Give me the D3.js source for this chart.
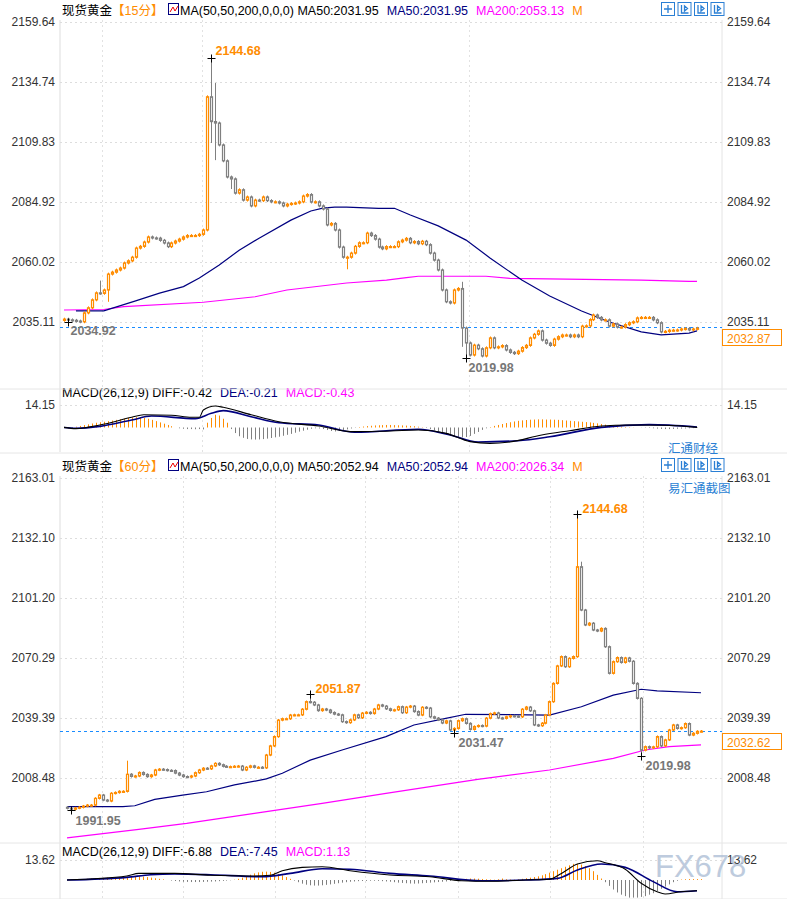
<!DOCTYPE html>
<html>
<head>
<meta charset="utf-8">
<script src="https://cdn.jsdelivr.net/npm/d3@7"></script>
<style>
  body { margin: 0; background: #fff; }
  text { font-family: "Liberation Sans", Arial, "Noto Sans CJK SC", sans-serif; }
</style>
</head>
<body>
<svg id="chart" width="787" height="899"></svg>
<script>
// ---------- 15 minute panel ----------
const topCloses = [
  2036.3,2036,2035.8,2035.5,2035.2,2038.9,2041,2044.3,2047.2,2047,
  2048.4,2055,2055.8,2056.7,2057.5,2059.6,2060.5,2062,2065.8,2066.5,
  2068.3,2070.4,2070,2069.9,2069,2067.9,2066.4,2067.9,2068.7,2069.5,
  2070.4,2071,2071,2071,2071.5,2073.3,2128.6,2118.3,2117.7,2108.6,
  2102,2095.3,2094.5,2088.6,2090,2085.7,2087,2083.3,2085.7,2085.5,
  2087,2085.5,2085,2085,2084.5,2083.3,2084,2084.3,2084.5,2085,
  2087.4,2088,2084.9,2085,2083.3,2082,2075.4,2076,2073.3,2066.2,
  2062,2062,2063.7,2066.5,2068,2068,2072,2071,2069.5,2066.2,
  2065.5,2066.4,2066.4,2066.4,2068.4,2069.1,2069.8,2068,2068.5,2067.6,
  2068.6,2067.2,2063.7,2060.8,2056.7,2048.4,2043.5,2043,2048.4,2049,
  2032.6,2026.4,2021.4,2025.5,2024,2021,2024.4,2028.5,2024.4,2024.8,
  2025.3,2023.5,2022.5,2022,2023,2024.5,2025.4,2028.5,2030,2031.4,
  2027.6,2026.3,2025.4,2028,2029,2029.7,2029.7,2029,2029.7,2029,
  2033.4,2033.5,2036.1,2038,2037,2036,2036,2033.4,2034.3,2033,
  2033,2034,2034.8,2035.2,2036.8,2037,2037,2037,2036,2034.8,
  2031,2031.2,2031.7,2031.7,2031.8,2032.2,2032.4,2031.8,2032.2,2032.5
];
const topFirstOpen = 2035.8;
const topHighs = {9: 2052.3, 37: 2144.68, 38: 2134.3, 100: 2051.8};
const topLows = {1: 2034.92, 11: 2043.5, 37: 2109.4, 38: 2102.3, 42: 2090.3, 71: 2057, 100: 2024.8, 101: 2019.98};
const topMa50 = [[3,2039.7],[10,2039.7],[18,2043.9],[24,2047.1],[30,2049.8],[34,2053.4],[39,2058.8],[44,2064.9],
  [49,2069.9],[57,2077.4],[62,2081.2],[65,2082.4],[68,2082.8],[71,2082.8],[79,2082.3],[83,2082.3],[87,2079.5],
  [94,2075],[101,2069.1],[107,2061.7],[115,2052.5],[122,2045.9],[130,2039.7],[137,2035.1],[145,2031],
  [150,2029.8],[157,2030.5],[159,2031.4]];
const topMa200 = [[0,2040.1],[10,2040.3],[15,2041.5],[35,2043.3],[48,2045.6],[56,2048.4],[71,2051.3],[81,2052.5],
  [86,2053.5],[89,2054.1],[106,2054.1],[112,2053.2],[145,2052.5],[157,2052],[159,2052]];
const topDiff = [[0,0.1],[3,-0.7],[9,1.6],[17,6.4],[20,8],[27,7.7],[32,6.4],[34,6.4],[35,11],[38,13.5],[40,12.7],
  [47,8],[54,3.6],[64,0.9],[72,-2.6],[79,-2.4],[89,-1.6],[96,-3.7],[102,-8.9],[107,-10],[112,-9.1],[120,-4.7],
  [127,-2],[135,0.9],[142,1.6],[151,1.4],[159,0.1]];
const topDea = [[0,0],[3,-0.5],[9,0.7],[17,4.7],[22,7.2],[33,5.5],[37,8.9],[40,10.6],[47,6.8],[54,3],[64,1.6],
  [73,-3],[89,-1.1],[97,-4.7],[104,-9.1],[114,-8.3],[122,-5.8],[135,0.1],[147,1.8],[159,0.3]];
const topHist = [
  -0.3,-0.5,-0.3,0.5,1,1.5,2,2.5,3,3.3, 3.6,4,4.4,4.8,5.2,5.6,6,6.3,6.5,6.3,
  6,5.5,4.8,4,3.2,2.4,1.6,0.8,0,-0.5, -0.8,-1,-1,-1.1,-1,-1.2,3,6,8,7.5,
  5.5,3,-1,-3.5,-5.5,-6.5,-7.2,-7.5,-7.6,-7.5, -7.3,-7,-6.6,-6.2,-5.8,-5.2,-4.6,-4,-3.3,-2.6,
  -2,-1.4,-0.8,-0.5,-0.6,-1,-1.6,-2.2,-2.5,-2.2, -1.8,-1.2,-0.6,-0.2,0.3,0.6,0.9,1.1,1.3,1.4,
  1.5,1.6,1.6,1.5,1.4,1.3,1.2,1,0.8,0.5, 0.2,-0.3,-1,-1.8,-2.6,-3.4,-4.2,-5,-5.6,-6,
  -6.2,-6,-5.3,-4,-2.8,-1.5,-0.5,0.3,1,1.6, 2.2,2.8,3.3,3.8,4.2,4.5,4.7,4.9,5,5.1,
  5.1,5,5,4.9,4.8,4.6,4.4,4.2,4,3.8, 3.6,3.4,3.2,2.9,2.6,2.2,1.8,1.4,1,0.7,
  0.5,0.3,0.2,0.1,0,-0.1,-0.2,-0.3,-0.5,-0.7, -0.9,-1,-1,-0.9,-0.8,-0.7,-0.6,-0.5,-0.4,-0.3
];
const topTicks = [2159.64, 2134.74, 2109.83, 2084.92, 2060.02, 2035.11];

// ---------- 60 minute panel ----------
const botCloses = [
  1992.9,1992.4,1993,1993.4,1994,1994.5,1994.5,1998,1999.7,1997.1,
  1996.6,2000.6,2001,2001.6,2001.6,2010.4,2009.3,2009.5,2011.3,2010.3,
  2009.2,2010,2012.6,2013,2012.8,2012.4,2012.3,2011,2010,2009.2,
  2009,2009.5,2011.2,2012.6,2013.5,2013.2,2014.7,2016,2015.3,2014.5,
  2014.3,2014.3,2014.5,2014.6,2012.6,2014,2014.7,2014,2014,2013.7,
  2020.3,2025,2029.8,2038.3,2039,2039,2040.9,2041,2041,2043.9,
  2047.8,2047.5,2046.1,2043.2,2044,2043.5,2042.2,2041.4,2041,2037.5,
  2037,2038.4,2041,2039.5,2041.9,2042.3,2041.7,2044,2046.1,2045.5,
  2044.1,2043.3,2043.6,2045.2,2042.1,2045,2045.5,2042.7,2040.9,2044.9,
  2044.5,2040,2039.3,2038.4,2036.8,2037.9,2033.2,2034,2038,2039,
  2036.6,2033.5,2035,2035.5,2035.2,2039.3,2041.6,2042,2039.4,2039.2,
  2040,2040.5,2040.3,2040,2043.9,2045,2043.1,2035.8,2035.4,2036.7,
  2040.9,2047.8,2057.2,2066.2,2071,2065.8,2070.1,2071,2117.3,2095,
  2087.3,2088.2,2084.7,2084.2,2085.5,2076.1,2062.4,2068.4,2070.5,2068,
  2070.3,2068.6,2057.2,2049.5,2022.8,2024.6,2024,2024.5,2029.8,2025,
  2028.1,2033.2,2035.8,2034,2034.4,2036.5,2030.6,2031.5,2032.5,2032.6
];
const botFirstOpen = 1993.4;
const botHighs = {15: 2017.4, 61: 2051.87, 128: 2144.68, 129: 2119.9};
const botLows = {1: 1991.95, 97: 2031.47, 144: 2019.98};
const botMa50 = [[0,1993.7],[14,1993.7],[17,1994.2],[22,1997.5],[29,1999.7],[35,2001.4],[42,2004.9],[50,2008],
  [54,2010.9],[61,2017.7],[69,2022.9],[80,2029.8],[87,2035.8],[95,2039.2],[100,2041.3],[121,2040.9],
  [129,2045.2],[137,2051.2],[144,2054.2],[148,2053.4],[159,2052.4]];
const botMa200 = [[0,1977.6],[18,1982],[30,1985.1],[47,1990.3],[64,1995.4],[80,2000.6],[103,2007.8],
  [121,2012.6],[137,2018.6],[145,2022.9],[151,2024.6],[159,2025.5]];
const botDiff = [[0,0],[15,2.7],[18,4.5],[27,4.5],[36,3.2],[46,2.7],[51,3.2],[54,6.3],[59,8.6],[64,9],[71,6.3],
  [81,3.4],[91,2.2],[99,-0.5],[106,-0.9],[115,0],[121,0.5],[124,4.5],[128,10.9],[133,13.1],[135,11.8],
  [140,7.3],[144,-2.2],[148,-8],[150,-9.5],[154,-8],[158,-7.3]];
const botDea = [[0,0],[15,1.8],[21,3.6],[27,4.1],[36,3.6],[49,2.2],[56,4.5],[64,7.7],[71,7.3],[81,4.5],[91,2.7],
  [104,-0.5],[115,0],[123,1.1],[128,6.8],[134,10.9],[140,8.6],[147,-1.1],[153,-8],[158,-7.3]];
const botHist = [
  0,0.2,0.3,0.5,0.6,0.8,1,1.2,1.4,1.5, 1.6,1.7,1.8,1.9,2,2.2,2.4,2.6,2.5,2.3,
  2,1.6,1.2,0.8,0.4,0,-0.4,-0.7,-1,-1.2, -1.3,-1.4,-1.4,-1.4,-1.3,-1.2,-1.1,-1,-0.8,-0.6,
  -0.4,-0.2,0.2,0.8,1.6,2.6,3.6,4.5,5.2,5.6, 5.7,5.5,5,4.2,3.2,2,0.8,-0.4,-1.5,-2.5,
  -3.2,-3.6,-3.8,-3.8,-3.6,-3.3,-3,-2.6,-2.2,-1.8, -1.5,-1.2,-1,-0.8,-0.7,-0.6,-0.5,-0.5,-0.6,-0.8,
  -1,-1.2,-1.5,-1.8,-2,-2.2,-2.4,-2.5,-2.4,-2.2, -2,-1.8,-1.6,-1.4,-1.2,-1,-0.6,-0.2,0.3,0.6,
  0.8,1,1,0.9,0.7,0.5,0.3,0.2,0.5,1, 0.5,0.3,0.2,0.4,0.8,1.2,1.6,2,2.5,3.2,
  4,5,6,7,8,9,10,11,11,10.5, 9.5,8,6,3.5,1,-1.5,-4,-6.5,-8.5,-10,
  -11,-12,-12,-12,-11.5,-11,-10,-9,-7.5,-6, -4.5,-3,-1.5,-0.5,0.3,0.5,0.6,0.6,0.6,0.6
];
const botTicks = [2163.01, 2132.10, 2101.20, 2070.29, 2039.39, 2008.48];

const UP = '#ff8c00', DOWN = '#808080', NAVY = '#000080', MAG = '#ff00ff';
const svg = d3.select('#chart');

function candlesOf(closes, firstOpen, highs, lows) {
  return closes.map((c, i) => {
    const o = i === 0 ? firstOpen : closes[i - 1];
    return {i, o, c,
      h: highs[i] !== undefined ? highs[i] : Math.max(o, c) + 0.6,
      l: lows[i] !== undefined ? lows[i] : Math.min(o, c) - 0.6};
  });
}

function drawPanel(cfg) {
  const g = svg.append('g');
  const x = d3.scaleLinear().domain([0, cfg.closes.length - 1]).range(cfg.xRange);
  const y = d3.scaleLinear().domain([cfg.ticks[cfg.ticks.length - 1], cfg.ticks[0]]).range(cfg.yRange);
  const my = d3.scaleLinear().domain([0, cfg.macdTick]).range(cfg.macdRange);

  // frame lines
  g.append('line').attr('x1', 60).attr('x2', 60).attr('y1', cfg.top).attr('y2', cfg.bottom).attr('stroke', '#ddd');
  g.append('line').attr('x1', 722).attr('x2', 722).attr('y1', cfg.top).attr('y2', cfg.bottom).attr('stroke', '#e4e4e4');
  g.append('line').attr('x1', 0).attr('x2', 787).attr('y1', cfg.sep).attr('y2', cfg.sep).attr('stroke', '#e6e6e6');

  // grid
  g.selectAll('.hg').data(cfg.ticks).join('line')
    .attr('x1', 60).attr('x2', 722).attr('y1', d => Math.round(y(d)) + 0.5).attr('y2', d => Math.round(y(d)) + 0.5)
    .attr('stroke', '#ddd').attr('stroke-dasharray', '2,3');
  g.append('line').attr('x1', 60).attr('x2', 722)
    .attr('y1', Math.round(my(cfg.macdTick)) + 0.5).attr('y2', Math.round(my(cfg.macdTick)) + 0.5)
    .attr('stroke', '#ddd').attr('stroke-dasharray', '2,3');
  g.selectAll('.vg').data(cfg.vgrid).join('line')
    .attr('x1', d => d + 0.5).attr('x2', d => d + 0.5).attr('y1', cfg.top).attr('y2', cfg.bottom)
    .attr('stroke', '#e2e2e2').attr('stroke-dasharray', '2,3');

  // axis labels
  const lab = (v, yy) => {
    g.append('text').attr('x', 55).attr('y', yy + 4).attr('text-anchor', 'end').attr('font-size', 12).attr('fill', '#333').text(v);
    g.append('text').attr('x', 727).attr('y', yy + 4).attr('font-size', 12).attr('fill', '#333').text(v);
  };
  cfg.ticks.forEach(t => lab(t.toFixed(2), y(t)));
  lab(cfg.macdTick.toFixed(2), my(cfg.macdTick));

  // last price dashed line and box
  const ly = Math.round(y(cfg.last)) + 0.5;
  g.append('line').attr('x1', 60).attr('x2', 722).attr('y1', ly).attr('y2', ly)
    .attr('stroke', '#1a8cff').attr('stroke-dasharray', '3,3');
  g.append('rect').attr('x', 722.5).attr('y', ly + 2).attr('width', 59).attr('height', 16)
    .attr('fill', '#fff').attr('stroke', UP);
  g.append('text').attr('x', 727).attr('y', ly + 15).attr('font-size', 12).attr('fill', UP).text(cfg.last.toFixed(2));

  // moving averages
  const line = d3.line().x(d => x(d[0])).y(d => y(d[1]));
  g.append('path').datum(cfg.ma200).attr('d', line).attr('fill', 'none').attr('stroke', MAG).attr('stroke-width', 1.2);
  g.append('path').datum(cfg.ma50).attr('d', line).attr('fill', 'none').attr('stroke', NAVY).attr('stroke-width', 1.2);

  // candles
  const data = candlesOf(cfg.closes, cfg.firstOpen, cfg.highs, cfg.lows);
  const cg = g.selectAll('.c').data(data).join('g');
  cg.append('line')
    .attr('x1', d => Math.round(x(d.i)) + 0.5).attr('x2', d => Math.round(x(d.i)) + 0.5)
    .attr('y1', d => y(d.h)).attr('y2', d => y(d.l))
    .attr('stroke', d => d.c >= d.o ? UP : DOWN).attr('stroke-width', 1);
  cg.append('rect')
    .attr('x', d => Math.round(x(d.i)) - 0.5).attr('width', 2)
    .attr('y', d => y(Math.max(d.o, d.c)))
    .attr('height', d => Math.max(1, y(Math.min(d.o, d.c)) - y(Math.max(d.o, d.c))))
    .attr('fill', '#fff').attr('stroke', d => d.c >= d.o ? UP : DOWN).attr('stroke-width', 1.2);

  // extreme markers
  cfg.marks.forEach(m => {
    const px = Math.round(x(m.i)) + 0.5, py = Math.round(y(m.v)) + 0.5;
    g.append('path').attr('d', `M${px - 4},${py}H${px + 4}M${px},${py - 4}V${py + 4}`).attr('stroke', '#000');
    g.append('text').attr('x', px + m.dx).attr('y', py + m.dy).attr('font-size', 12.5).attr('font-weight', 'bold')
      .attr('fill', m.color).text(m.v.toFixed(2));
  });

  // MACD
  g.selectAll('.h').data(cfg.hist).join('line')
    .attr('x1', (d, i) => Math.round(x(i)) + 0.5).attr('x2', (d, i) => Math.round(x(i)) + 0.5)
    .attr('y1', my(0)).attr('y2', d => my(d))
    .attr('stroke', d => d >= 0 ? UP : DOWN).attr('stroke-width', 1);
  const mline = d3.line().x(d => x(d[0])).y(d => my(d[1])).curve(d3.curveMonotoneX);
  g.append('path').datum(cfg.dea).attr('d', mline).attr('fill', 'none').attr('stroke', NAVY).attr('stroke-width', 1.6);
  g.append('path').datum(cfg.diff).attr('d', mline).attr('fill', 'none').attr('stroke', '#000').attr('stroke-width', 1.1);

  // headers
  const hdr = g.append('text').attr('x', 62).attr('y', cfg.top - 5).attr('font-size', 12.5);
  hdr.append('tspan').attr('fill', '#000').text('现货黄金');
  hdr.append('tspan').attr('fill', UP).text(cfg.period);
  g.append('rect').attr('x', 168.5).attr('y', cfg.top - 16.5).attr('width', 10).attr('height', 11)
    .attr('fill', '#fff').attr('stroke', NAVY);
  g.append('path').attr('d', `M170,${cfg.top - 8}L173,${cfg.top - 13}L175,${cfg.top - 9}L178,${cfg.top - 14}`)
    .attr('stroke', '#e00').attr('fill', 'none');
  const h2 = g.append('text').attr('x', 180).attr('y', cfg.top - 5).attr('font-size', 12.5);
  h2.append('tspan').attr('fill', '#000').text('MA(50,50,200,0,0,0) MA50:' + cfg.ma50txt);
  h2.append('tspan').attr('fill', NAVY).attr('dx', 8).text('MA50:' + cfg.ma50txt);
  h2.append('tspan').attr('fill', MAG).attr('dx', 8).text('MA200:' + cfg.ma200txt);
  h2.append('tspan').attr('fill', UP).attr('dx', 8).text('M');

  const m2 = g.append('text').attr('x', 62).attr('y', cfg.macdHdrY).attr('font-size', 12.5);
  m2.append('tspan').attr('fill', '#000').text('MACD(26,12,9) DIFF:' + cfg.macdTxt[0]);
  m2.append('tspan').attr('fill', NAVY).attr('dx', 8).text('DEA:' + cfg.macdTxt[1]);
  m2.append('tspan').attr('fill', MAG).attr('dx', 8).text('MACD:' + cfg.macdTxt[2]);

  // tool icons
  [0, 1, 2, 3].forEach(k => {
    const ix = 661 + k * 16.5, iy = cfg.top - 18;
    g.append('rect').attr('x', ix + 0.5).attr('y', iy + 0.5).attr('width', 13).attr('height', 13)
      .attr('fill', '#fff').attr('stroke', '#2a7fd4');
    g.append('path').attr('d', k === 0 ? `M${ix + 7},${iy + 3}V${iy + 11}M${ix + 3},${iy + 7}H${ix + 11}`
      : `M${ix + 4},${iy + 3}V${iy + 11}H${ix + 11}M${ix + 7},${iy + 4}V${iy + 9}L${ix + 10},${iy + 6.5}Z`)
      .attr('stroke', '#2a7fd4').attr('fill', 'none').attr('stroke-width', 1.3);
  });
}

drawPanel({
  closes: topCloses, firstOpen: topFirstOpen, highs: topHighs, lows: topLows,
  ticks: topTicks, xRange: [64, 697], yRange: [322, 22], top: 20, bottom: 452, sep: 453,
  macdTick: 14.15, macdRange: [427.5, 405], macdHdrY: 397,
  ma50: topMa50, ma200: topMa200, diff: topDiff, dea: topDea, hist: topHist, last: 2032.87,
  vgrid: [102, 202, 469], period: '【15分】', ma50txt: '2031.95', ma200txt: '2053.13',
  macdTxt: ['-0.42', '-0.21', '-0.43'],
  marks: [{i: 37, v: 2144.68, dx: 4, dy: -4, color: UP}, {i: 1, v: 2034.92, dx: 2, dy: 12, color: '#777'},
    {i: 101, v: 2019.98, dx: 2, dy: 13, color: '#777'}]
});
svg.append('line').attr('x1', 0).attr('x2', 787).attr('y1', 389).attr('y2', 389).attr('stroke', '#e6e6e6');

drawPanel({
  closes: botCloses, firstOpen: botFirstOpen, highs: botHighs, lows: botLows,
  ticks: botTicks, xRange: [67, 701], yRange: [778, 478], top: 476, bottom: 899, sep: 899,
  macdTick: 13.62, macdRange: [880, 860], macdHdrY: 856,
  ma50: botMa50, ma200: botMa200, diff: botDiff, dea: botDea, hist: botHist, last: 2032.62,
  vgrid: [102, 183, 275, 365, 458, 550, 643], period: '【60分】', ma50txt: '2052.94', ma200txt: '2026.34',
  macdTxt: ['-6.88', '-7.45', '1.13'],
  marks: [{i: 128, v: 2144.68, dx: 5, dy: -2, color: UP}, {i: 61, v: 2051.87, dx: 5, dy: -2, color: UP},
    {i: 1, v: 1991.95, dx: 4, dy: 14, color: '#777'}, {i: 97, v: 2031.47, dx: 4, dy: 13, color: '#777'},
    {i: 144, v: 2019.98, dx: 4, dy: 13, color: '#777'}]
});
svg.append('line').attr('x1', 0).attr('x2', 787).attr('y1', 843).attr('y2', 843).attr('stroke', '#e6e6e6');

svg.append('text').attr('x', 668).attr('y', 453).attr('font-size', 12.5).attr('fill', '#2a7fd4').text('汇通财经');
svg.append('text').attr('x', 668).attr('y', 493).attr('font-size', 12.5).attr('fill', '#2a7fd4').text('易汇通截图');
svg.append('text').attr('x', 655).attr('y', 877).attr('font-size', 31).attr('font-family', 'DejaVu Sans')
  .attr('fill', '#aebfd6').attr('opacity', 0.8).text('FX678');
</script>
</body>
</html>
